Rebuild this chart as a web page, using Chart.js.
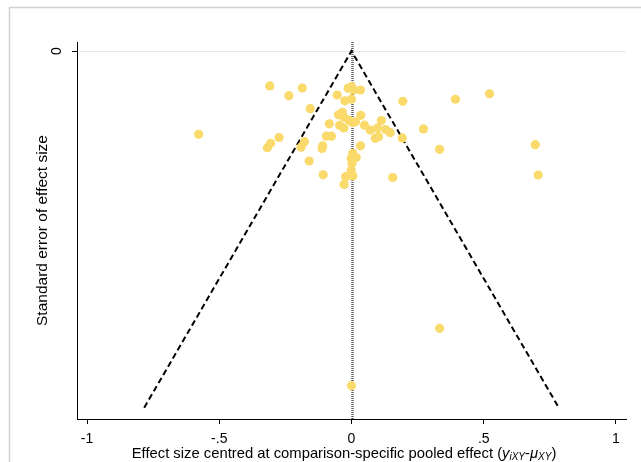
<!DOCTYPE html>
<html>
<head>
<meta charset="utf-8">
<script src="https://cdn.jsdelivr.net/npm/chart.js@4.4.1/dist/chart.umd.min.js"></script>
<style>
  html, body { margin: 0; padding: 0; background: #fff; }
</style>
</head>
<body>
<canvas id="funnelChart" width="641" height="462"></canvas>
<script>
// effect size centred at the comparison-specific pooled effect
const effectCentred = [
  -0.309, -0.237, -0.186, -0.156, -0.578, -0.274, -0.306, -0.318, -0.178, -0.191,
  -0.160, -0.013, 0.001, 0.007, 0.034, -0.054, -0.025, 0.000, 0.194, 0.393,
  0.522, -0.049, -0.035, -0.029, 0.035, -0.011, 0.003, 0.015, -0.084, -0.045,
  -0.029, 0.049, 0.113, 0.071, 0.098, 0.129, 0.146, 0.272, 0.090, 0.102,
  0.192, -0.095, -0.076, -0.109, -0.111, 0.034, 0.333, 0.695, 0.005, 0.018,
  -0.001, 0.002, -0.001, 0.005, -0.022, -0.028, -0.107, 0.156, 0.706, 0.333,
  0.000
];
// standard error of each effect size
const standardError = [
  0.0392, 0.0501, 0.0415, 0.0647, 0.0934, 0.0970, 0.1035, 0.1084, 0.1017, 0.1078,
  0.1233, 0.0417, 0.0400, 0.0437, 0.0437, 0.0493, 0.0558, 0.0540, 0.0564, 0.0541,
  0.0479, 0.0715, 0.0687, 0.0740, 0.0721, 0.0774, 0.0802, 0.0794, 0.0816, 0.0833,
  0.0863, 0.0832, 0.0779, 0.0886, 0.0863, 0.0881, 0.0916, 0.0874, 0.0979, 0.0961,
  0.0975, 0.0955, 0.0955, 0.1063, 0.1093, 0.1063, 0.1102, 0.1050, 0.1147, 0.1194,
  0.1206, 0.1259, 0.1334, 0.1401, 0.1409, 0.1497, 0.1388, 0.1418, 0.1390, 0.3109,
  0.3752
];

// pseudo 95% confidence limits of the funnel
const funnelX = [-0.784, 0, 0.784];
const funnelSE = [0.400, 0, 0.400];

const xTicks = [-1, -0.5, 0, 0.5, 1];
const xTickLabels = ['-1', '-.5', '0', '.5', '1'];
const yTicks = [0];
const yTickLabels = ['0'];

const FONT = "'Liberation Sans', Arial, sans-serif";

const points = effectCentred.map((x, i) => ({ x: x, y: standardError[i] }));
const funnel = funnelX.map((x, i) => ({ x: x, y: funnelSE[i] }));

// frame, zero reference line and the x title with subscripts
const extras = {
  id: 'extras',
  beforeDraw(chart) {
    const c = chart.ctx;
    c.save();
    c.fillStyle = '#fff';
    c.fillRect(0, 0, chart.width, chart.height);
    c.strokeStyle = '#d2d2d2';
    c.lineWidth = 1.5;
    c.strokeRect(9.5, 7.5, 700, 500);
    c.restore();
  },
  beforeDatasetsDraw(chart) {
    const c = chart.ctx;
    const area = chart.chartArea;
    const x = Math.round(chart.scales.x.getPixelForValue(0)) + 0.5;
    c.save();
    c.strokeStyle = '#606060';
    c.lineWidth = 2.5;
    c.setLineDash([1, 1]);
    c.beginPath();
    c.moveTo(x, area.top);
    c.lineTo(x, area.bottom);
    c.stroke();
    c.restore();
  },
  afterDraw(chart) {
    const c = chart.ctx;
    const parts = [
      { t: 'Effect size centred at comparison-specific pooled effect (', f: '14.8px ' + FONT, dy: 0 },
      { t: 'y', f: 'italic 14.8px ' + FONT, dy: 0 },
      { t: 'iXY', f: 'italic 10px ' + FONT, dy: 2 },
      { t: '-', f: '14.8px ' + FONT, dy: 0 },
      { t: 'μ', f: 'italic 14.8px ' + FONT, dy: 0 },
      { t: 'XY', f: 'italic 10px ' + FONT, dy: 2 },
      { t: ')', f: '14.8px ' + FONT, dy: 0 }
    ];
    c.save();
    c.fillStyle = '#000';
    c.textBaseline = 'alphabetic';
    c.textAlign = 'left';
    let total = 0;
    parts.forEach(p => { c.font = p.f; p.w = c.measureText(p.t).width; total += p.w; });
    let x = 344 - total / 2;
    const y = 457.5;
    parts.forEach(p => {
      c.font = p.f;
      c.fillText(p.t, x, y + p.dy);
      x += p.w;
    });
    c.restore();
  }
};

const ctx = document.getElementById('funnelChart').getContext('2d');
const funnelChart = new Chart(ctx, {
  type: 'scatter',
  data: {
    datasets: [
      {
        label: 'Studies',
        data: points,
        backgroundColor: '#f9da6b',
        borderWidth: 0,
        pointRadius: 4.6,
        order: 1
      },
      {
        label: 'Funnel',
        data: funnel,
        showLine: true,
        borderColor: '#000',
        borderWidth: 2,
        borderDash: [6, 3.5],
        pointRadius: 0,
        fill: false,
        order: 2
      }
    ]
  },
  options: {
    responsive: false,
    animation: false,
    layout: { padding: { top: 42, right: 15, left: 0, bottom: 0 } },
    plugins: {
      legend: { display: false },
      tooltip: { enabled: false }
    },
    scales: {
      x: {
        type: 'linear',
        min: -1.038,
        max: 1.038,
        afterBuildTicks: s => { s.ticks = xTicks.map(v => ({ value: v })); },
        afterFit: s => { s.height = 43; },
        grid: { drawOnChartArea: false, tickLength: 5, tickColor: '#000', tickWidth: 1 },
        border: { display: true, color: '#000', width: 1 },
        ticks: {
          color: '#000',
          padding: 7,
          maxRotation: 0,
          font: { family: FONT, size: 14 },
          callback: (v, i) => xTickLabels[i]
        }
      },
      y: {
        type: 'linear',
        reverse: true,
        min: -0.0101,
        max: 0.4126,
        afterBuildTicks: s => { s.ticks = yTicks.map(v => ({ value: v })); },
        afterFit: s => { s.width = 77; },
        grid: { color: '#e3e9ee', lineWidth: 1, tickColor: '#000', tickLength: 5, tickWidth: 1 },
        border: { display: true, color: '#000', width: 1 },
        ticks: {
          color: '#000',
          minRotation: 90,
          maxRotation: 90,
          crossAlign: 'center',
          padding: 11,
          font: { family: FONT, size: 14 },
          callback: (v, i) => yTickLabels[i]
        },
        title: {
          display: true,
          text: 'Standard error of effect size',
          color: '#000',
          font: { family: FONT, size: 15.5 },
          padding: { top: 33, bottom: 0 }
        }
      }
    }
  },
  plugins: [extras]
});
</script>
</body>
</html>
